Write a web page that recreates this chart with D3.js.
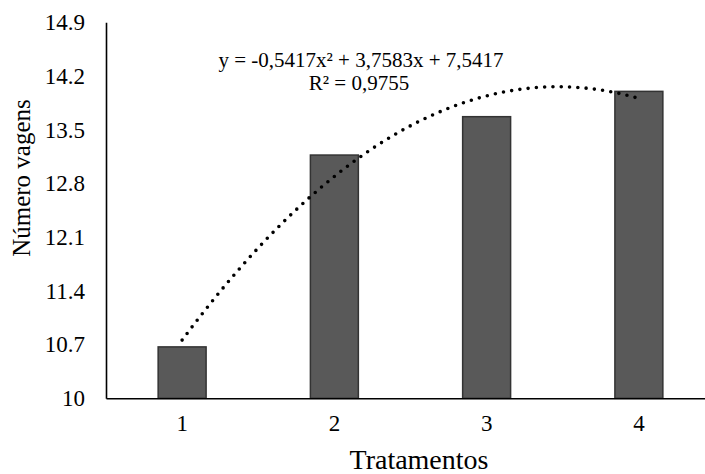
<!DOCTYPE html>
<html><head><meta charset="utf-8">
<script src="https://cdn.jsdelivr.net/npm/d3@7"></script>
<style>body{margin:0;background:#fff}svg{display:block}</style>
</head><body>
<svg id="c" width="705" height="474" font-family="Liberation Serif"></svg>
<script>
const categories = [1, 2, 3, 4];
const values = [10.67, 13.17, 13.67, 14.00];
const yTicks = [10, 10.7, 11.4, 12.1, 12.8, 13.5, 14.2, 14.9];
const trendCoef = [-0.5417, 3.7583, 7.5417]; // a, b, c
const equationLines = ["y = -0,5417x\u00B2 + 3,7583x + 7,5417", "R\u00B2 = 0,9755"];
const yTitle = "Número vagens";
const xTitle = "Tratamentos";

(function () {
const svg = d3.select("#c");
const mLeft = 106, mRight = 715, mTop = 22.3, mBottom = 398.3;
const FONT = "Liberation Serif";

const x = d3.scaleBand().domain(categories).range([mLeft, mRight]).paddingInner(0.685).paddingOuter(0.3425);
const xc = d => x(d) + x.bandwidth() / 2;
const xLin = d3.scaleLinear().domain([categories[0], categories[categories.length - 1]])
  .range([xc(categories[0]), xc(categories[categories.length - 1])]);
const y = d3.scaleLinear().domain([10, 14.9]).range([mBottom, mTop]);

// bars
svg.append("g").selectAll("rect").data(values).join("rect")
  .attr("x", (d, i) => x(categories[i]))
  .attr("width", x.bandwidth())
  .attr("y", d => y(d))
  .attr("height", d => y(10) - y(d))
  .attr("fill", "#595959")
  .attr("stroke", "#333")
  .attr("stroke-width", 1.5);

// axes
const yAxis = d3.axisLeft(y).tickValues(yTicks).tickSize(0).tickPadding(21).tickFormat(d => String(d));
const gy = svg.append("g").attr("transform", `translate(${mLeft},0)`).call(yAxis);
gy.attr("font-family", FONT).attr("font-size", 23);
gy.select(".domain").attr("stroke", "#000").attr("stroke-width", 1.6);
gy.selectAll("text").attr("font-family", FONT).attr("font-size", 23).attr("fill", "#000");

const xAxis = d3.axisBottom(x).tickSize(0).tickPadding(16);
const gx = svg.append("g").attr("transform", `translate(0,${mBottom})`).call(xAxis);
gx.attr("font-family", FONT).attr("font-size", 23);
gx.select(".domain").attr("stroke", "#000").attr("stroke-width", 1.6);
gx.selectAll("text").attr("font-family", FONT).attr("font-size", 23).attr("fill", "#000");

// trendline
const [a, b, c] = trendCoef;
const tPts = d3.range(0, 301).map(i => {
  const t = categories[0] + (categories[categories.length - 1] - categories[0]) * i / 300;
  return [t, a * t * t + b * t + c];
});
svg.append("path").datum(tPts)
  .attr("d", d3.line().x(d => xLin(d[0])).y(d => y(d[1])))
  .attr("fill", "none").attr("stroke", "#000").attr("stroke-width", 3.6)
  .attr("stroke-linecap", "round").attr("stroke-dasharray", "0 8.3");

// equation
svg.append("text").attr("x", 361).attr("y", 67).attr("text-anchor", "middle")
  .attr("font-family", FONT).attr("font-size", 21).text(equationLines[0]);
svg.append("text").attr("x", 359).attr("y", 90).attr("text-anchor", "middle")
  .attr("font-family", FONT).attr("font-size", 21).text(equationLines[1]);

// titles
svg.append("text").attr("transform", "translate(30,178) rotate(-90)").attr("text-anchor", "middle")
  .attr("font-family", FONT).attr("font-size", 25).text(yTitle);
svg.append("text").attr("x", 419).attr("y", 469).attr("text-anchor", "middle")
  .attr("font-family", FONT).attr("font-size", 28).text(xTitle);
})();
</script>
</body></html>
